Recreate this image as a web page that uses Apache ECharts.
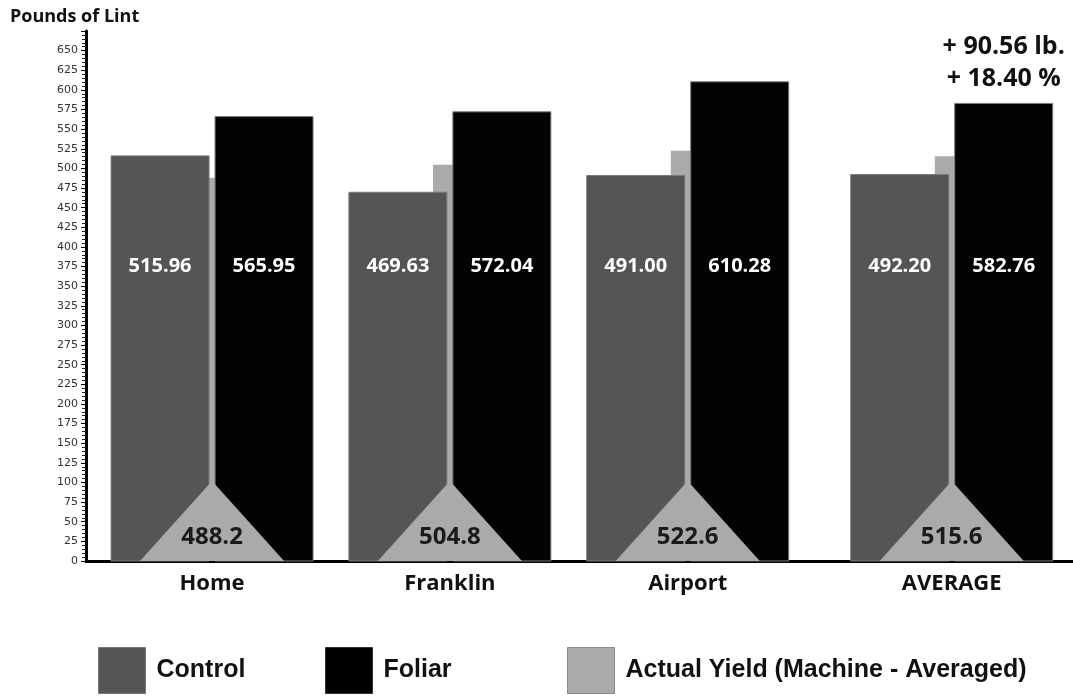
<!DOCTYPE html>
<html>
<head>
<meta charset="utf-8">
<script src="https://cdn.jsdelivr.net/npm/echarts@6/dist/echarts.min.js"></script>
<style>
  html, body { margin: 0; padding: 0; background: #ffffff; }
  #chart { width: 1073px; height: 696px; }
</style>
</head>
<body>
<div id="chart"></div>
<script>
// Lint yield per location (pounds)
const categories = ['Home', 'Franklin', 'Airport', 'AVERAGE'];
const controlYield = [515.96, 469.63, 491.00, 492.20];
const foliarYield = [565.95, 572.04, 610.28, 582.76];
const actualYield = [488.2, 504.8, 522.6, 515.6];
const yAxisRange = [0, 675];
const yAxisStep = 25;

const NAME_CONTROL = 'Control';
const NAME_FOLIAR = 'Foliar';
const NAME_ACTUAL = 'Actual Yield (Machine - Averaged)';

// Layout, in fractions of one category step along x
const SUMMARY_SHIFT = 0.11;   // the AVERAGE group sits a little apart
const BAR_W = 0.412;
const HALF_GAP = 0.0126;
const BACK_HALF = 0.071;
const TRI_HALF = 0.303;
// Value levels used for decorations and inner labels
const TRI_APEX = 102;
const BAR_LABEL_LEVEL = 375;
const TRI_LABEL_LEVEL = 30;

const NUM_FONT = '"Open Sans", "DejaVu Sans", sans-serif';

const xPos = categories.map((c, i) => i + 1 + (c === 'AVERAGE' ? SUMMARY_SHIFT : 0));
const rows = vals => vals.map((v, i) => [xPos[i], v]);

function sideBar(side, fill, stroke) {
  return function (params, api) {
    const i = params.dataIndex;
    const x = api.value(0), v = api.value(1);
    const unit = api.size([1, 0])[0];
    const top = api.coord([x, v]);
    const base = api.coord([x, 0]);
    const w = unit * BAR_W;
    const left = side < 0 ? top[0] - unit * HALF_GAP - w : top[0] + unit * HALF_GAP;
    const cx = left + w / 2;
    const children = [
      { type: 'rect', shape: { x: left, y: top[1], width: w, height: base[1] - top[1] },
        style: { fill: fill, stroke: stroke, lineWidth: 1 } },
      { type: 'text', z2: 5,
        style: { text: v.toFixed(2), x: cx, y: api.coord([x, BAR_LABEL_LEVEL])[1],
                 align: 'center', verticalAlign: 'middle', fill: '#ffffff',
                 fontSize: 20, fontWeight: 'bold', fontFamily: NUM_FONT } }
    ];
    if (side > 0 && categories[i] === 'AVERAGE') {
      const gain = foliarYield[i] - controlYield[i];
      const pct = gain / controlYield[i] * 100;
      children.push({ type: 'text', z2: 5,
        style: { text: '+ ' + gain.toFixed(2) + ' lb.\n+ ' + pct.toFixed(2) + ' %',
                 x: cx, y: top[1] - 9, align: 'center', verticalAlign: 'bottom',
                 lineHeight: 32, fill: '#111111', fontSize: 25, fontWeight: 'bold',
                 fontFamily: NUM_FONT } });
    }
    return { type: 'group', children: children };
  };
}

function backBar(params, api) {
  const x = api.value(0), v = api.value(1);
  const unit = api.size([1, 0])[0];
  const top = api.coord([x, v]);
  const base = api.coord([x, 0]);
  return { type: 'rect',
    shape: { x: top[0] - unit * BACK_HALF, y: top[1], width: unit * BACK_HALF * 2, height: base[1] - top[1] },
    style: { fill: '#aaaaaa' } };
}

function triangle(params, api) {
  const x = api.value(0), v = api.value(1);
  const unit = api.size([1, 0])[0];
  const base = api.coord([x, 0]);
  const apex = api.coord([x, TRI_APEX]);
  return { type: 'group', children: [
    { type: 'polygon',
      shape: { points: [[base[0] - unit * TRI_HALF, base[1]], [base[0] + unit * TRI_HALF, base[1]], [apex[0], apex[1]]] },
      style: { fill: '#aaaaaa' } },
    { type: 'text', z2: 5,
      style: { text: v.toFixed(1), x: base[0], y: api.coord([x, TRI_LABEL_LEVEL])[1],
               align: 'center', verticalAlign: 'middle', fill: '#1a1a1a',
               fontSize: 24, fontWeight: 'bold', fontFamily: NUM_FONT } }
  ] };
}

const legendText = { fontSize: 25, fontWeight: 'bold', fontFamily: '"Liberation Sans", Arial, sans-serif',
                     color: '#111111', padding: [0, 0, 0, 6] };
function legendAt(name, left, border) {
  return { data: [name], left: left, top: 642, orient: 'horizontal', icon: 'rect',
           itemWidth: 47, itemHeight: 46, selectedMode: true,
           itemStyle: { borderColor: border, borderWidth: 1 }, textStyle: legendText };
}

const chart = echarts.init(document.getElementById('chart'), null, { renderer: 'canvas' });
chart.setOption({
  animation: false,
  backgroundColor: '#ffffff',
  title: { text: 'Pounds of Lint', left: 5, top: 3,
           textStyle: { fontSize: 18, fontWeight: 'bold', fontFamily: NUM_FONT, color: '#111111' } },
  grid: { left: 86, right: 0, top: 31, bottom: 135, containLabel: false },
  xAxis: {
    type: 'value', min: 0.47, max: 4.62,
    axisLine: { show: true, onZero: false, lineStyle: { color: '#000000', width: 3 } },
    axisTick: { show: false },
    splitLine: { show: false },
    axisLabel: {
      customValues: xPos,
      formatter: v => { const k = xPos.findIndex(p => Math.abs(p - v) < 1e-6); return k < 0 ? '' : categories[k]; },
      margin: 12, fontSize: 22, fontWeight: 'bold', fontFamily: NUM_FONT, color: '#111111'
    }
  },
  yAxis: {
    type: 'value', min: yAxisRange[0], max: yAxisRange[1], interval: yAxisStep,
    axisLine: { show: true, lineStyle: { color: '#000000', width: 3 } },
    axisTick: { show: true, length: 5, lineStyle: { color: '#000000', width: 1 } },
    minorTick: { show: true, splitNumber: 5, length: 4, lineStyle: { color: '#222222', width: 1 } },
    splitLine: { show: false },
    axisLabel: { margin: 8, fontSize: 11, color: '#333333', fontFamily: '"DejaVu Sans", sans-serif',
                 formatter: v => (v >= yAxisRange[1] ? '' : String(v)) }
  },
  legend: [
    legendAt(NAME_CONTROL, 93, '#777777'),
    legendAt(NAME_FOLIAR, 320, '#333333'),
    legendAt(NAME_ACTUAL, 562, '#8a8a8a')
  ],
  series: [
    { type: 'custom', name: NAME_ACTUAL, z: 1, renderItem: backBar,
      itemStyle: { color: '#aaaaaa' }, encode: { x: 0, y: 1 }, data: rows(actualYield) },
    { type: 'custom', name: NAME_CONTROL, z: 2, renderItem: sideBar(-1, '#555555', '#7a7a7a'),
      itemStyle: { color: '#555555' }, encode: { x: 0, y: 1 }, data: rows(controlYield) },
    { type: 'custom', name: NAME_FOLIAR, z: 2, renderItem: sideBar(1, '#030303', '#7a7a7a'),
      itemStyle: { color: '#000000' }, encode: { x: 0, y: 1 }, data: rows(foliarYield) },
    { type: 'custom', name: NAME_ACTUAL, z: 3, renderItem: triangle,
      itemStyle: { color: '#aaaaaa' }, encode: { x: 0, y: 1 }, data: rows(actualYield) }
  ]
});
</script>
</body>
</html>
